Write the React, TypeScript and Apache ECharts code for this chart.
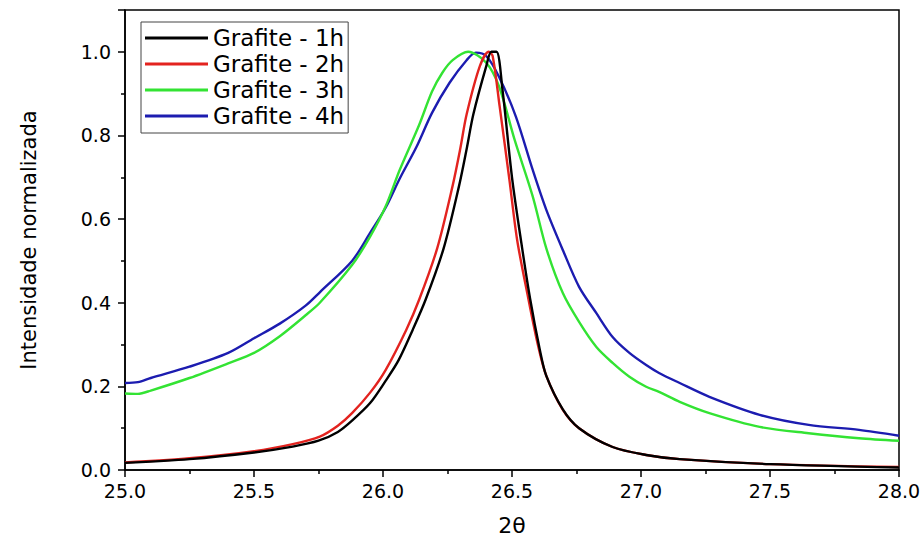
import React, { useEffect, useRef } from "react";
import * as echarts from "echarts";

// 2θ positions (degrees) and normalised intensities for each milling time
const theta1h = [25.0, 25.25, 25.5, 25.65, 25.75, 25.825, 25.88, 25.95, 26.01, 26.06, 26.115, 26.165, 26.235, 26.295, 26.325, 26.35, 26.40, 26.42, 26.44, 26.463, 26.50, 26.537, 26.57, 26.607, 26.633, 26.697, 26.76, 26.89, 27.02, 27.15, 27.5, 28.0];
const int1h = [0.017, 0.026, 0.042, 0.056, 0.07, 0.091, 0.118, 0.16, 0.213, 0.262, 0.335, 0.407, 0.53, 0.68, 0.77, 0.85, 0.965, 1.0, 1.0, 0.91, 0.70, 0.54, 0.41, 0.29, 0.225, 0.145, 0.10, 0.055, 0.036, 0.026, 0.014, 0.006];

const theta2h = [25.0, 25.25, 25.5, 25.65, 25.755, 25.825, 25.88, 25.95, 26.01, 26.09, 26.14, 26.21, 26.27, 26.30, 26.324, 26.375, 26.41, 26.425, 26.452, 26.49, 26.52, 26.56, 26.6, 26.633, 26.697, 26.76, 26.89, 27.02, 27.15, 27.5, 28.0];
const int2h = [0.018, 0.028, 0.045, 0.062, 0.08, 0.106, 0.136, 0.185, 0.239, 0.335, 0.407, 0.53, 0.68, 0.77, 0.85, 0.965, 1.0, 0.99, 0.87, 0.694, 0.55, 0.42, 0.30, 0.225, 0.144, 0.10, 0.055, 0.036, 0.026, 0.014, 0.007];

const theta3h = [25.0, 25.05, 25.1, 25.25, 25.4, 25.5, 25.6, 25.7, 25.755, 25.88, 25.95, 26.01, 26.065, 26.14, 26.19, 26.23, 26.27, 26.33, 26.40, 26.45, 26.51, 26.58, 26.633, 26.697, 26.76, 26.827, 26.89, 26.955, 27.02, 27.07, 27.15, 27.265, 27.46, 27.65, 27.845, 28.0];
const int3h = [0.183, 0.182, 0.19, 0.22, 0.255, 0.28, 0.32, 0.37, 0.40, 0.49, 0.558, 0.63, 0.718, 0.825, 0.905, 0.95, 0.98, 1.0, 0.974, 0.917, 0.79, 0.655, 0.53, 0.423, 0.354, 0.294, 0.256, 0.223, 0.199, 0.187, 0.163, 0.136, 0.103, 0.088, 0.076, 0.07];

const theta4h = [25.0, 25.05, 25.1, 25.25, 25.4, 25.5, 25.6, 25.7, 25.755, 25.88, 25.95, 26.01, 26.065, 26.13, 26.19, 26.258, 26.324, 26.36, 26.40, 26.45, 26.515, 26.58, 26.633, 26.697, 26.76, 26.827, 26.89, 26.955, 27.02, 27.07, 27.15, 27.265, 27.46, 27.65, 27.845, 28.0];
const int4h = [0.208, 0.21, 0.22, 0.247, 0.28, 0.315, 0.35, 0.393, 0.425, 0.50, 0.567, 0.627, 0.697, 0.773, 0.854, 0.926, 0.98, 0.998, 0.99, 0.94, 0.845, 0.718, 0.622, 0.526, 0.438, 0.375, 0.318, 0.28, 0.251, 0.232, 0.208, 0.175, 0.132, 0.108, 0.096, 0.082];

const seriesNames = ["Grafite - 1h", "Grafite - 2h", "Grafite - 3h", "Grafite - 4h"];
const seriesColors = ["#000000", "#e3231f", "#33e333", "#1c1cb0"];

const xTitle = "2θ";
const yTitle = "Intensidade normalizada";

const FONT = "DejaVu Sans";

function zip(xs: number[], ys: number[]) {
  return xs.map((x, i) => [x, ys[i]]);
}

export default function App() {
  const ref = useRef<HTMLDivElement | null>(null);

  useEffect(() => {
    if (!ref.current) return;
    const chart = echarts.init(ref.current, undefined, { renderer: "svg" });
    const sets = [
      zip(theta1h, int1h),
      zip(theta2h, int2h),
      zip(theta3h, int3h),
      zip(theta4h, int4h),
    ];

    chart.setOption({
      animation: false,
      backgroundColor: "#ffffff",
      textStyle: { fontFamily: FONT },
      grid: {
        left: 125,
        right: 25,
        top: 10,
        bottom: 72,
        show: true,
        borderColor: "#000",
        borderWidth: 1.5,
        backgroundColor: "transparent",
      },
      legend: {
        orient: "vertical",
        left: 141,
        top: 22,
        padding: [4, 4, 5, 4],
        icon: "rect",
        itemWidth: 63,
        itemHeight: 3,
        itemGap: 2,
        borderColor: "#444",
        borderWidth: 1,
        backgroundColor: "#fff",
        textStyle: { fontFamily: FONT, fontSize: 23, color: "#000", lineHeight: 24 },
        data: seriesNames,
      },
      xAxis: {
        type: "value",
        min: 25,
        max: 28,
        interval: 0.5,
        name: xTitle,
        nameLocation: "middle",
        nameGap: 44,
        nameTextStyle: { fontFamily: FONT, fontSize: 22, color: "#000" },
        axisLine: { show: true, lineStyle: { color: "#000", width: 1.5 } },
        axisTick: { show: true, inside: false, length: 7, lineStyle: { color: "#000", width: 1.5 } },
        minorTick: { show: true, splitNumber: 2, length: 4, lineStyle: { color: "#000", width: 1.5 } },
        splitLine: { show: false },
        minorSplitLine: { show: false },
        axisLabel: {
          margin: 11,
          fontFamily: FONT,
          fontSize: 19,
          color: "#000",
          formatter: (v: number) => v.toFixed(1),
        },
      },
      yAxis: {
        type: "value",
        min: 0,
        max: 1.1,
        interval: 0.2,
        name: yTitle,
        nameLocation: "middle",
        nameGap: 86,
        nameTextStyle: { fontFamily: FONT, fontSize: 21, color: "#000" },
        axisLine: { show: true, lineStyle: { color: "#000", width: 1.5 } },
        axisTick: { show: true, inside: false, length: 7, lineStyle: { color: "#000", width: 1.5 } },
        minorTick: { show: true, splitNumber: 2, length: 4, lineStyle: { color: "#000", width: 1.5 } },
        splitLine: { show: false },
        minorSplitLine: { show: false },
        axisLabel: {
          margin: 14,
          fontFamily: FONT,
          fontSize: 19,
          color: "#000",
          showMaxLabel: false,
          formatter: (v: number) => (Math.abs(v * 5 - Math.round(v * 5)) < 1e-6 ? v.toFixed(1) : ""),
        },
      },
      series: seriesNames.map((name, i) => ({
        name,
        type: "line",
        data: sets[i],
        symbol: "none",
        smooth: 0.3,
        z: 10 - i,
        color: seriesColors[i],
        lineStyle: { color: seriesColors[i], width: 2.4 },
      })),
    });

    return () => chart.dispose();
  }, []);

  return (
    <div
      ref={ref}
      style={{ position: "fixed", left: 0, top: 0, width: 924, height: 542, background: "#fff" }}
    />
  );
}
